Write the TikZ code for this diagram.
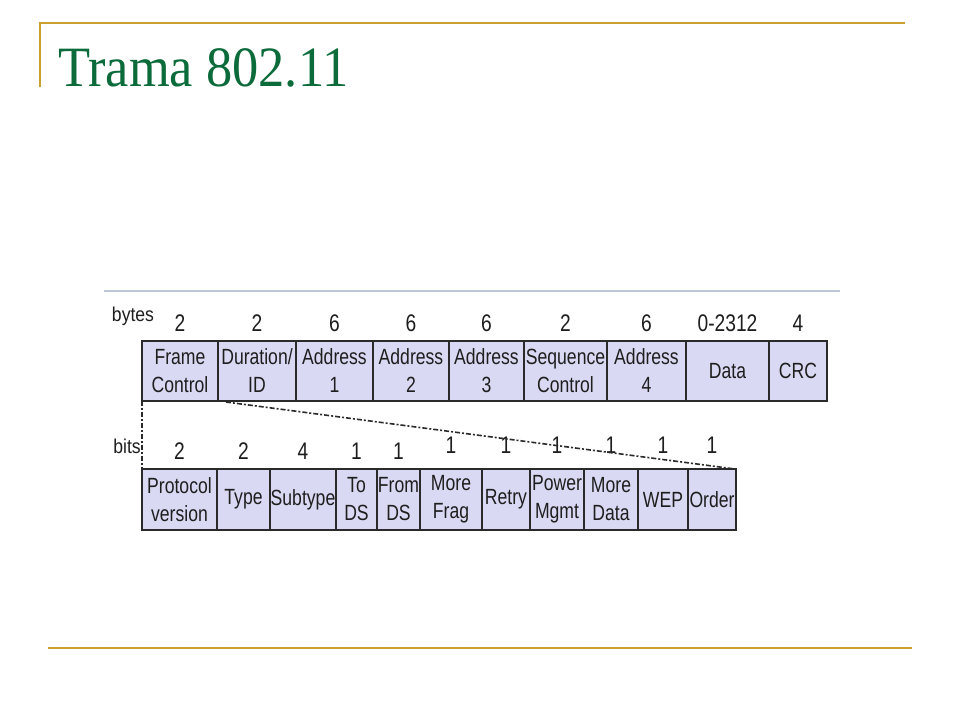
\documentclass[tikz,border=0pt]{standalone}
\usepackage{fontspec}
\setmainfont{Liberation Sans}
\newfontfamily\titlefont[FakeStretch=0.92]{Liberation Serif}
\newfontfamily\narrowfont[FakeStretch=0.8]{Liberation Sans}
\newfontfamily\sidefont[FakeStretch=0.88]{Liberation Sans}
\definecolor{gold}{HTML}{C9A030}
\definecolor{titlegreen}{HTML}{0B6B3A}
\definecolor{fieldfill}{HTML}{D9D9F3}
\definecolor{rulegray}{HTML}{B9C8D6}
\definecolor{edge}{HTML}{2A2A2A}
\definecolor{ink}{HTML}{1E1E1E}
\tikzset{
  field/.style={draw=edge, line width=1.6pt, fill=fieldfill},
  flabel/.style={align=center, inner sep=0pt, font=\narrowfont\fontsize{22}{28}\selectfont, text=ink},
  fnum/.style={inner sep=0pt, font=\narrowfont\fontsize{24}{26}\selectfont, text=ink},
  side/.style={inner sep=0pt, font=\sidefont\fontsize{20}{22}\selectfont, text=ink},
  guide/.style={draw=edge, line width=1.6pt, dash pattern=on 5pt off 2pt on 2pt off 2pt},
  goldrule/.style={draw=gold, line width=2pt}
}
\begin{document}
\begin{tikzpicture}[x=1pt,y=-1pt]
\useasboundingbox (0,0) rectangle (960,720);
\fill[white] (0,0) rectangle (960,720);
% slide frame
\coordinate (gA) at (40,87);
\coordinate (gB) at (40,23);
\coordinate (gC) at (905,23);
\draw[goldrule] (gA) -- (gB) -- (gC);
\coordinate (gD) at (48,648);
\coordinate (gE) at (912,648);
\draw[goldrule] (gD) -- (gE);
\node[anchor=base west, inner sep=0pt, text=titlegreen, font=\titlefont\fontsize{57}{60}\selectfont] (title) at (58,86) {Trama 802.11};
% light rule
\coordinate (rA) at (104,291);
\coordinate (rB) at (840,291);
\draw[draw=rulegray, line width=2pt] (rA) -- (rB);
% top row
\node[side] (bytes) at (133,316) {bytes};
\foreach \xa/\xb/\lab/\num/\nm in {
  142/218/{Frame\\Control}/2/t1,
  218/296/{Duration/\\ID}/2/t2,
  296/373/{Address\\1}/6/t3,
  373/449/{Address\\2}/6/t4,
  449/524/{Address\\3}/6/t5,
  524/607/{Sequence\\Control}/2/t6,
  607/686/{Address\\4}/6/t7,
  686/769/{Data}/0-2312/t8,
  769/827/{CRC}/4/t9}{
  \draw[field] (\xa,341) rectangle (\xb,401);
  \node[flabel] (\nm) at ({(\xa+\xb)/2},371) {\lab};
  \node[fnum] (\nm n) at ({(\xa+\xb)/2},323) {\num};
}
% bottom row
\node[side] (bits) at (127,446) {bits};
\foreach \xa/\xb/\lab/\num/\ny/\nm in {
  142/217/{Protocol\\version}/2/451/b1,
  217/270/{Type}/2/451/b2,
  270/336/{Subtype}/4/451/b3,
  336/377/{To\\DS}/1/451/b4,
  377/420/{From\\DS}/1/451/b5,
  420/482/{More\\Frag}/1/445/b6,
  482/530/{Retry}/1/445/b7,
  530/584/{Power\\Mgmt}/1/445/b8,
  584/638/{More\\Data}/1/445/b9,
  638/688/{WEP}/1/445/b10,
  688/736/{Order}/1/445/b11}{
  \draw[field] (\xa,469) rectangle (\xb,530);
  \node[flabel] (\nm) at ({(\xa+\xb)/2},499.5) {\lab};
  \node[fnum] (\nm n) at ({(\xa+\xb)/2},\ny) {\num};
}
% expansion guides
\coordinate (vA) at (142,401);
\coordinate (vB) at (142,469);
\coordinate (dA) at (226,402);
\coordinate (dB) at (735,469);
\draw[guide] (vA) -- (vB);
\draw[guide] (dA) -- (dB);
\end{tikzpicture}
\end{document}
